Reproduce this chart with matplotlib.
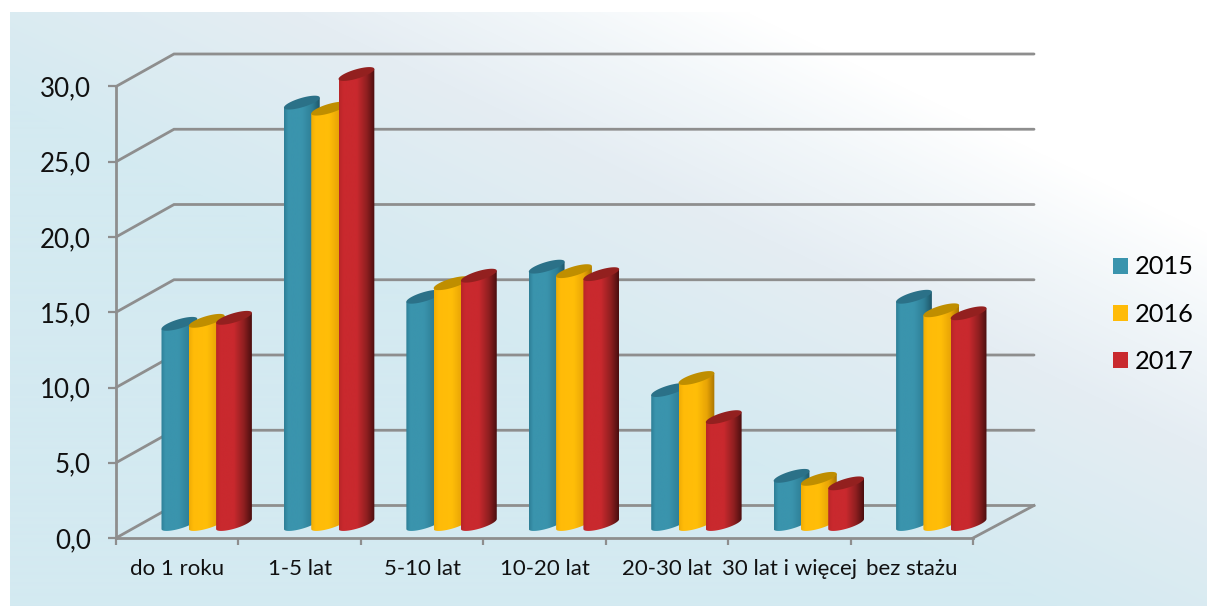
"""Staz pracy - 3D style cylinder bars."""

import numpy as np
import matplotlib
matplotlib.use('Agg')
import matplotlib.pyplot as plt
from matplotlib.colors import LinearSegmentedColormap
from matplotlib.patches import Patch, PathPatch
from matplotlib.path import Path

categories = ['do 1 roku', '1-5 lat', '5-10 lat', '10-20 lat', '20-30 lat',
              '30 lat i więcej', 'bez stażu']
years = ['2015', '2016', '2017']
values_2015 = [13.3, 28.0, 15.1, 17.1, 8.9, 3.2, 15.1]
values_2016 = [13.5, 27.6, 16.0, 16.8, 9.7, 3.0, 14.2]
values_2017 = [13.7, 29.9, 16.5, 16.6, 7.1, 2.7, 14.0]
y_ticks = [0, 5, 10, 15, 20, 25, 30]
y_tick_labels = ['0,0', '5,0', '10,0', '15,0', '20,0', '25,0', '30,0']

W, H = 1207, 606
PX_X = 122.43  # pixels per category
PX_Y = 15.05   # pixels per unit of value
X0, Y0 = 116, 538  # pixel position of the origin
GRAY = '#8E8E8E'

plt.rcParams['font.family'] = ['Lato', 'DejaVu Sans']

fig = plt.figure(figsize=(W / 100, H / 100), dpi=100)
ax = fig.add_axes([0, 0, 1, 1])
xlim = (-X0 / PX_X, (W - X0) / PX_X)
ylim = ((Y0 - H) / PX_Y, Y0 / PX_Y)


def px(x):
    return (x - X0) / PX_X


def py(y):
    return (Y0 - y) / PX_Y


# Background gradient panel
xs, ys = np.meshgrid(np.arange(10, W), np.arange(13, H))
s = 0.48 * xs - ys
bg_cmap = LinearSegmentedColormap.from_list(
    'bg', [(0, '#D4EAF1'), (0.37, '#E5EDF3'), (0.55, '#F1F6F9'), (0.72, '#FFFFFF'),
           (1, '#FFFFFF')])
ax.imshow(bg_cmap(np.clip((s + 100) / 620, 0, 1)), extent=(px(10), px(W), py(H), py(13)),
          aspect='auto', zorder=0)

# Walls
depth_left = 58 / PX_X
depth_right = 61 / PX_X
depth_y = 32.5 / PX_Y
for t in y_ticks:
    ax.plot([0, depth_left, 7 + depth_right],
            [t, t + depth_y, t + depth_y], color=GRAY, lw=2.0, zorder=1,
            solid_capstyle='round', solid_joinstyle='miter')
ax.plot([7, 7 + depth_right], [0, depth_y], color=GRAY, lw=2.0, zorder=1)

# Cylinders
bar_start = 45.5 / PX_X
bar_step = 27.3 / PX_X
base = 9 / PX_Y
half_w = 17.9 / PX_X
slope_y = 5 / PX_Y
minor_y = 4.8 / PX_Y
series = [values_2015, values_2016, values_2017]
body_colors = [
    ['#2E7F97', '#3A94AD', '#3A94AD', '#2F7F97', '#1F5769'],
    ['#F0AC05', '#FFBB08', '#FFBE08', '#E8A406', '#A97400'],
    ['#B82529', '#C9292E', '#C9292E', '#8E1F20', '#4A0E0F'],
]
top_colors = ['#2B7188', '#BF8E00', '#93201F']
stops = [0, 0.12, 0.5, 0.78, 1]
t_top = np.linspace(0, 2 * np.pi, 60)
t_low = np.linspace(np.pi, 2 * np.pi, 30)

for j, vals in enumerate(series):
    cmap = LinearSegmentedColormap.from_list(
        years[j], list(zip(stops, body_colors[j])))
    grad = cmap(np.linspace(0, 1, 128))[None, :, :]
    for i, v in enumerate(vals):
        left = i + bar_start + j * bar_step
        cx = left + half_w
        cy_low = base + slope_y
        cy_top = base + v + slope_y
        # bottom half ellipse, then back along the top
        low_x = cx - half_w * np.cos(t_low - np.pi)
        low_y = cy_low - slope_y * np.cos(t_low - np.pi) + minor_y * np.sin(t_low)
        pts = list(zip(low_x, low_y)) + [(cx + half_w, cy_top + slope_y),
                                         (cx - half_w, cy_top - slope_y)]
        body = PathPatch(Path(pts + [pts[0]]), transform=ax.transData,
                         facecolor='none', edgecolor='none')
        ax.add_patch(body)
        im = ax.imshow(grad, extent=(left, left + 2 * half_w, 0, cy_top + slope_y + 1),
                       aspect='auto', zorder=3 + i + j * 0.1)
        im.set_clip_path(body)
        top_x = cx + half_w * np.cos(t_top)
        top_y = cy_top + slope_y * np.cos(t_top) + minor_y * np.sin(t_top)
        ax.fill(top_x, top_y, color=top_colors[j], lw=0, zorder=3 + i + j * 0.1)

# Axes, ticks and labels through matplotlib's own spines
ax.set_xlim(xlim)
ax.set_ylim(ylim)
ax.patch.set_visible(False)
ax.spines['top'].set_visible(False)
ax.spines['right'].set_visible(False)
ax.spines['left'].set_position(('data', 0))
ax.spines['bottom'].set_position(('data', 0))
ax.spines['left'].set_bounds(0, 30)
ax.spines['bottom'].set_bounds(0, 7)
for side in ('left', 'bottom'):
    ax.spines[side].set_color(GRAY)
    ax.spines[side].set_linewidth(2.0)
    ax.spines[side].set_zorder(2)

ax.set_yticks(y_ticks)
ax.set_yticklabels(y_tick_labels, fontsize=18.6, color='#111111')
ax.set_xticks(range(8))
ax.set_xticklabels([])
ax.set_xticks(np.arange(7) + 0.5, minor=True)
ax.set_xticklabels(categories, minor=True, fontsize=16, color='#111111')
ax.tick_params(axis='y', length=6, width=1.6, color=GRAY, pad=12)
ax.tick_params(axis='x', which='major', length=5, width=1.6, color=GRAY)
ax.tick_params(axis='x', which='minor', length=0, pad=15)

handles = [Patch(facecolor=c[1], edgecolor='none') for c in body_colors]
ax.legend(handles, years, loc='center left', frameon=False, fontsize=18.3,
          bbox_to_anchor=(px(1113), py(314)), bbox_transform=ax.transData,
          handlelength=0.59, handleheight=0.59, handletextpad=0.28,
          labelspacing=0.945, borderpad=0, borderaxespad=0)

fig.savefig('out.png', dpi=100, facecolor='white')
